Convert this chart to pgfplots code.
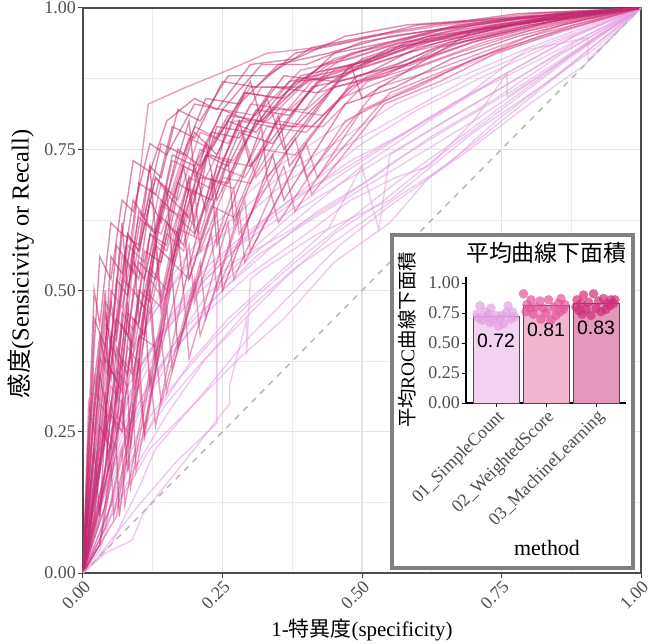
\documentclass[border=0pt]{standalone}
\usepackage{fontspec}
\setmainfont{Liberation Serif}
\newfontfamily\cjk{Noto Sans CJK JP}
\newfontfamily\arial{Liberation Sans}
\usepackage{pgfplots}
\pgfplotsset{compat=1.18}
\definecolor{gridc}{HTML}{E3E3E3}
\definecolor{tickc}{HTML}{4D4D4D}
\definecolor{cA}{HTML}{E39BE0}
\definecolor{cB}{HTML}{DC4A8C}
\definecolor{cC}{HTML}{C2286E}
\definecolor{pA}{HTML}{E4A0E2}
\definecolor{pB}{HTML}{E5559A}
\definecolor{pC}{HTML}{D02F7A}
\definecolor{bA}{HTML}{F2D3F0}
\definecolor{bB}{HTML}{F2B5CF}
\definecolor{bC}{HTML}{E397BB}
\pgfplotsset{
 sc/.style={cA, opacity=0.55, line width=1.4bp},
 ws/.style={cB, opacity=0.55, line width=1.4bp},
 ml/.style={cC, opacity=0.55, line width=1.4bp},
}
\newcommand{\tfont}{\fontsize{18}{20}\selectfont}
\begin{document}
\begin{tikzpicture}
\begin{axis}[
 at={(0,0)}, anchor=south west,
 width=558bp, height=565bp, scale only axis,
 xmin=0, xmax=1, ymin=0, ymax=1,
 xtick={0,0.25,0.5,0.75,1}, ytick={0,0.25,0.5,0.75,1},
 minor xtick={0.125,0.375,0.625,0.875}, minor ytick={0.125,0.375,0.625,0.875},
 grid=both, major grid style={gridc, line width=1.2bp}, minor grid style={gridc!70, line width=0.7bp},
 minor tick length=0pt, major tick length=5bp, tick align=outside,
 xtick pos=bottom, ytick pos=left,
 tick style={black!75, line width=1bp},
 axis line style={black!70, line width=1.2bp},
 /pgf/number format/.cd, fixed, fixed zerofill, precision=2, assume math mode=true,
 /pgfplots/.cd,
 xticklabel style={rotate=45, anchor=north east, font=\tfont, text=tickc, inner sep=1bp},
 yticklabel style={font=\tfont, text=tickc, inner sep=2bp},
 xlabel={1-{\cjk 特異度}(specificity)},
 ylabel={{\cjk 感度}(Sensicivity or Recall)},
 xlabel style={at={(axis description cs:0.5,0)}, anchor=center, yshift=-57bp, font=\fontsize{21}{24}\selectfont},
 ylabel style={at={(axis description cs:0,0.547)}, anchor=center, yshift=62bp, font=\fontsize{24.5}{27}\selectfont},
]
% ---- 01_SimpleCount
\addplot[sc] coordinates {(0,0)(0.04,0.035)(0.088,0.058)(0.108,0.106)(0.2,0.22)(0.263,0.30)(0.263,0.333)(0.293,0.448)(0.293,0.386)(0.30,0.52)(0.32,0.536)(0.42,0.6)(0.55,0.66)(0.7,0.78)(0.82,0.86)(0.92,0.93)(1,1)};
\addplot[sc] coordinates {(0,0)(0.02,0.02)(0.1,0.12)(0.17,0.2)(0.24,0.265)(0.24,0.5)(0.3,0.56)(0.4,0.64)(0.5,0.72)(0.62,0.8)(0.75,0.88)(0.88,0.95)(1,1)};
\addplot[sc] coordinates {(0,0)(0.03,0.12)(0.07,0.24)(0.12,0.34)(0.18,0.43)(0.25,0.5)(0.33,0.57)(0.42,0.64)(0.52,0.7)(0.62,0.77)(0.74,0.84)(0.86,0.92)(1,1)};
\addplot[sc] coordinates {(0,0)(0.02,0.18)(0.05,0.3)(0.09,0.4)(0.14,0.48)(0.2,0.56)(0.28,0.62)(0.36,0.69)(0.46,0.75)(0.57,0.81)(0.7,0.88)(0.84,0.94)(1,1)};
\addplot[sc] coordinates {(0,0)(0.04,0.08)(0.08,0.18)(0.13,0.28)(0.19,0.37)(0.26,0.45)(0.35,0.53)(0.44,0.61)(0.5,0.72)(0.53,0.607)(0.55,0.74)(0.65,0.8)(0.77,0.87)(0.9,0.95)(1,1)};
\addplot[sc] coordinates {(0,0)(0.05,0.2)(0.1,0.33)(0.15,0.43)(0.22,0.52)(0.3,0.6)(0.38,0.66)(0.48,0.73)(0.58,0.78)(0.68,0.84)(0.8,0.9)(0.9,0.95)(1,1)};
\addplot[sc] coordinates {(0,0)(0.03,0.06)(0.06,0.15)(0.1,0.25)(0.16,0.33)(0.23,0.41)(0.3,0.48)(0.38,0.55)(0.47,0.62)(0.56,0.69)(0.66,0.76)(0.77,0.84)(0.88,0.92)(1,1)};
\addplot[sc] coordinates {(0,0)(0.02,0.1)(0.06,0.26)(0.11,0.38)(0.17,0.47)(0.24,0.55)(0.32,0.62)(0.41,0.69)(0.5,0.76)(0.6,0.82)(0.72,0.88)(0.85,0.94)(1,1)};
\addplot[sc] coordinates {(0,0)(0.06,0.14)(0.1,0.23)(0.15,0.3)(0.21,0.37)(0.28,0.44)(0.36,0.52)(0.45,0.6)(0.54,0.66)(0.64,0.74)(0.75,0.82)(0.87,0.91)(1,1)};
\addplot[sc] coordinates {(0,0)(0.03,0.22)(0.07,0.35)(0.12,0.45)(0.18,0.54)(0.26,0.62)(0.35,0.7)(0.45,0.76)(0.56,0.83)(0.68,0.88)(0.8,0.93)(0.91,0.97)(1,1)};
\addplot[sc] coordinates {(0,0)(0.04,0.15)(0.09,0.27)(0.15,0.38)(0.22,0.46)(0.3,0.53)(0.4,0.6)(0.48,0.66)(0.56,0.7)(0.62,0.72)(0.7,0.8)(0.76,0.885)(0.76,0.843)(0.88,0.92)(1,1)};
\addplot[sc] coordinates {(0,0)(0.05,0.1)(0.12,0.22)(0.2,0.3)(0.28,0.38)(0.36,0.45)(0.45,0.55)(0.55,0.62)(0.62,0.7)(0.7,0.76)(0.8,0.84)(0.9,0.92)(1,1)};
\addplot[sc] coordinates {(0,0)(0.04,0.17)(0.08,0.3)(0.13,0.41)(0.2,0.5)(0.28,0.58)(0.37,0.64)(0.47,0.71)(0.58,0.78)(0.68,0.84)(0.795,0.926)(0.905,0.947)(0.905,0.908)(1,1)};
\addplot[sc] coordinates {(0,0)(0.03,0.04)(0.05,0.1)(0.09,0.18)(0.15,0.28)(0.22,0.38)(0.3,0.47)(0.38,0.54)(0.47,0.6)(0.57,0.67)(0.68,0.74)(0.8,0.83)(0.9,0.9)(1,1)};
\addplot[sc] coordinates {(0,0)(0.02,0.15)(0.05,0.28)(0.09,0.39)(0.14,0.5)(0.2,0.58)(0.27,0.65)(0.35,0.72)(0.44,0.78)(0.54,0.84)(0.66,0.89)(0.8,0.94)(1,1)};
\addplot[sc] coordinates {(0,0)(0.05,0.05)(0.1,0.15)(0.13,0.22)(0.2,0.3)(0.3,0.42)(0.38,0.5)(0.46,0.58)(0.55,0.65)(0.65,0.72)(0.74,0.8)(0.86,0.89)(1,1)};
\addplot[sc] coordinates {(0,0)(0.03,0.2)(0.08,0.33)(0.14,0.42)(0.2,0.49)(0.27,0.55)(0.36,0.6)(0.46,0.66)(0.56,0.73)(0.66,0.79)(0.78,0.86)(0.89,0.93)(1,1)};
\addplot[sc] coordinates {(0,0)(0.04,0.12)(0.07,0.22)(0.11,0.3)(0.17,0.4)(0.23,0.48)(0.31,0.56)(0.4,0.62)(0.5,0.68)(0.6,0.74)(0.7,0.8)(0.82,0.88)(0.92,0.95)(1,1)};
\addplot[sc] coordinates {(0,0)(0.02,0.08)(0.06,0.2)(0.1,0.3)(0.16,0.4)(0.22,0.49)(0.3,0.57)(0.38,0.64)(0.48,0.7)(0.58,0.76)(0.7,0.83)(0.82,0.9)(1,1)};
\addplot[sc] coordinates {(0,0)(0.06,0.25)(0.1,0.36)(0.16,0.46)(0.22,0.54)(0.29,0.6)(0.37,0.66)(0.46,0.71)(0.56,0.77)(0.66,0.83)(0.77,0.89)(0.88,0.95)(1,1)};
% ---- 02_WeightedScore
\addplot[ws] coordinates {(0,0)(0.02,0.15)(0.04,0.3)(0.045,0.18)(0.08,0.45)(0.09,0.33)(0.13,0.58)(0.14,0.46)(0.2,0.68)(0.21,0.57)(0.29,0.77)(0.31,0.7)(0.42,0.85)(0.52,0.88)(0.63,0.93)(0.77,0.96)(0.9,0.99)(1,1)};
\addplot[ws] coordinates {(0,0)(0.03,0.25)(0.05,0.4)(0.07,0.36)(0.09,0.55)(0.11,0.52)(0.14,0.66)(0.17,0.63)(0.21,0.75)(0.25,0.73)(0.3,0.83)(0.37,0.82)(0.45,0.89)(0.55,0.92)(0.66,0.95)(0.8,0.98)(1,1)};
\addplot[ws] coordinates {(0,0)(0.04,0.08)(0.07,0.22)(0.075,0.12)(0.12,0.36)(0.13,0.26)(0.18,0.5)(0.19,0.38)(0.26,0.62)(0.27,0.52)(0.36,0.72)(0.38,0.64)(0.5,0.82)(0.6,0.86)(0.7,0.91)(0.82,0.95)(1,1)};
\addplot[ws] coordinates {(0,0)(0.03,0.2)(0.06,0.45)(0.09,0.6)(0.107,0.75)(0.117,0.83)(0.185,0.86)(0.26,0.89)(0.33,0.92)(0.42,0.93)(0.52,0.95)(0.65,0.97)(0.8,0.99)(1,1)};
\addplot[ws] coordinates {(0,0)(0.02,0.1)(0.05,0.33)(0.07,0.3)(0.1,0.48)(0.12,0.46)(0.15,0.6)(0.18,0.57)(0.22,0.7)(0.27,0.68)(0.33,0.79)(0.4,0.78)(0.48,0.86)(0.58,0.9)(0.7,0.94)(0.83,0.97)(1,1)};
\addplot[ws] coordinates {(0,0)(0.01,0.18)(0.03,0.38)(0.05,0.34)(0.07,0.52)(0.09,0.5)(0.11,0.62)(0.14,0.6)(0.18,0.72)(0.22,0.7)(0.27,0.8)(0.33,0.8)(0.4,0.87)(0.5,0.9)(0.62,0.94)(0.76,0.97)(1,1)};
\addplot[ws] coordinates {(0,0)(0.05,0.12)(0.08,0.25)(0.085,0.15)(0.13,0.4)(0.14,0.3)(0.2,0.52)(0.21,0.42)(0.28,0.64)(0.29,0.55)(0.39,0.74)(0.41,0.67)(0.54,0.83)(0.64,0.87)(0.74,0.92)(0.86,0.96)(1,1)};
\addplot[ws] coordinates {(0,0)(0.02,0.3)(0.04,0.48)(0.06,0.44)(0.08,0.6)(0.1,0.57)(0.13,0.7)(0.16,0.67)(0.2,0.79)(0.24,0.77)(0.3,0.86)(0.37,0.86)(0.45,0.91)(0.55,0.94)(0.68,0.97)(0.82,0.99)(1,1)};
\addplot[ws] coordinates {(0,0)(0.03,0.14)(0.06,0.28)(0.08,0.25)(0.1,0.42)(0.13,0.4)(0.16,0.55)(0.19,0.52)(0.23,0.65)(0.27,0.63)(0.32,0.75)(0.38,0.74)(0.46,0.84)(0.56,0.88)(0.67,0.92)(0.8,0.96)(1,1)};
\addplot[ws] coordinates {(0,0)(0.04,0.26)(0.06,0.22)(0.08,0.4)(0.1,0.37)(0.12,0.54)(0.15,0.5)(0.18,0.64)(0.21,0.6)(0.25,0.73)(0.3,0.72)(0.36,0.82)(0.43,0.81)(0.51,0.88)(0.61,0.91)(0.73,0.95)(0.86,0.98)(1,1)};
\addplot[ws] coordinates {(0,0)(0.02,0.22)(0.04,0.4)(0.05,0.35)(0.07,0.56)(0.09,0.53)(0.12,0.68)(0.15,0.65)(0.19,0.77)(0.23,0.75)(0.29,0.85)(0.36,0.84)(0.44,0.9)(0.54,0.93)(0.66,0.96)(0.8,0.98)(1,1)};
\addplot[ws] coordinates {(0,0)(0.06,0.1)(0.09,0.3)(0.095,0.18)(0.14,0.42)(0.15,0.32)(0.21,0.55)(0.22,0.45)(0.29,0.66)(0.3,0.57)(0.4,0.76)(0.42,0.7)(0.55,0.85)(0.65,0.89)(0.76,0.93)(0.88,0.97)(1,1)};
\addplot[ws] coordinates {(0,0)(0.01,0.1)(0.03,0.3)(0.05,0.27)(0.07,0.46)(0.09,0.43)(0.12,0.6)(0.15,0.57)(0.19,0.7)(0.23,0.68)(0.28,0.8)(0.34,0.79)(0.41,0.87)(0.5,0.9)(0.61,0.94)(0.74,0.97)(0.88,0.99)(1,1)};
\addplot[ws] coordinates {(0,0)(0.03,0.18)(0.06,0.36)(0.08,0.33)(0.11,0.5)(0.14,0.47)(0.17,0.61)(0.21,0.59)(0.25,0.7)(0.3,0.69)(0.36,0.79)(0.43,0.79)(0.51,0.87)(0.61,0.9)(0.72,0.94)(0.84,0.97)(1,1)};
\addplot[ws] coordinates {(0,0)(0.02,0.35)(0.03,0.3)(0.05,0.5)(0.07,0.47)(0.1,0.63)(0.13,0.6)(0.16,0.73)(0.2,0.71)(0.25,0.82)(0.31,0.81)(0.39,0.89)(0.48,0.91)(0.6,0.95)(0.74,0.97)(1,1)};
\addplot[ws] coordinates {(0,0)(0.05,0.2)(0.07,0.35)(0.075,0.24)(0.12,0.47)(0.13,0.36)(0.19,0.58)(0.2,0.48)(0.27,0.68)(0.28,0.6)(0.38,0.77)(0.4,0.7)(0.53,0.86)(0.63,0.89)(0.74,0.93)(0.86,0.97)(1,1)};
\addplot[ws] coordinates {(0,0)(0.01,0.3)(0.02,0.25)(0.04,0.44)(0.06,0.41)(0.08,0.58)(0.11,0.55)(0.14,0.69)(0.17,0.66)(0.21,0.78)(0.26,0.76)(0.32,0.86)(0.39,0.86)(0.48,0.92)(0.58,0.94)(0.7,0.97)(0.85,0.99)(1,1)};
\addplot[ws] coordinates {(0,0)(0.04,0.15)(0.07,0.38)(0.09,0.35)(0.12,0.52)(0.14,0.49)(0.17,0.63)(0.2,0.6)(0.24,0.72)(0.29,0.7)(0.35,0.8)(0.41,0.79)(0.49,0.87)(0.59,0.9)(0.7,0.94)(0.82,0.97)(1,1)};
\addplot[ws] coordinates {(0,0)(0.03,0.05)(0.05,0.2)(0.055,0.1)(0.1,0.34)(0.11,0.24)(0.15,0.47)(0.16,0.36)(0.23,0.6)(0.24,0.5)(0.33,0.7)(0.35,0.62)(0.47,0.8)(0.57,0.85)(0.68,0.9)(0.8,0.95)(0.92,0.98)(1,1)};
\addplot[ws] coordinates {(0,0)(0.02,0.2)(0.05,0.42)(0.06,0.38)(0.09,0.55)(0.11,0.52)(0.14,0.65)(0.18,0.63)(0.22,0.74)(0.27,0.73)(0.33,0.82)(0.4,0.82)(0.48,0.89)(0.58,0.92)(0.7,0.95)(0.83,0.98)(1,1)};
% ---- 03_MachineLearning
\addplot[ml] coordinates {(0,0)(0.02,0.22)(0.03,0.1)(0.05,0.42)(0.06,0.3)(0.09,0.58)(0.1,0.45)(0.15,0.68)(0.16,0.55)(0.22,0.76)(0.24,0.66)(0.33,0.84)(0.36,0.75)(0.48,0.9)(0.5,0.84)(0.7,0.96)(0.85,0.98)(1,1)};
\addplot[ml] coordinates {(0,0)(0.01,0.12)(0.03,0.35)(0.04,0.3)(0.06,0.52)(0.08,0.49)(0.1,0.64)(0.13,0.6)(0.16,0.74)(0.2,0.72)(0.25,0.82)(0.3,0.8)(0.36,0.88)(0.45,0.87)(0.55,0.93)(0.68,0.95)(0.82,0.98)(1,1)};
\addplot[ml] coordinates {(0,0)(0.03,0.1)(0.05,0.28)(0.07,0.25)(0.09,0.45)(0.11,0.42)(0.13,0.58)(0.16,0.55)(0.19,0.68)(0.23,0.66)(0.28,0.78)(0.34,0.76)(0.41,0.86)(0.5,0.88)(0.6,0.93)(0.73,0.96)(0.87,0.99)(1,1)};
\addplot[ml] coordinates {(0,0)(0.02,0.3)(0.04,0.5)(0.045,0.35)(0.07,0.62)(0.08,0.5)(0.12,0.72)(0.13,0.6)(0.19,0.8)(0.2,0.7)(0.3,0.87)(0.32,0.8)(0.45,0.92)(0.55,0.94)(0.67,0.97)(0.8,0.985)(1,1)};
\addplot[ml] coordinates {(0,0)(0.04,0.18)(0.06,0.4)(0.08,0.35)(0.1,0.5)(0.12,0.48)(0.15,0.62)(0.18,0.58)(0.21,0.7)(0.26,0.69)(0.31,0.8)(0.38,0.79)(0.46,0.87)(0.56,0.9)(0.66,0.94)(0.8,0.97)(1,1)};
\addplot[ml] coordinates {(0,0)(0.01,0.2)(0.02,0.45)(0.04,0.4)(0.05,0.56)(0.07,0.53)(0.09,0.66)(0.11,0.63)(0.14,0.76)(0.18,0.74)(0.22,0.84)(0.28,0.83)(0.35,0.9)(0.44,0.92)(0.55,0.95)(0.7,0.97)(0.85,0.99)(1,1)};
\addplot[ml] coordinates {(0,0)(0.03,0.05)(0.06,0.22)(0.065,0.1)(0.1,0.38)(0.11,0.25)(0.16,0.52)(0.17,0.4)(0.24,0.64)(0.25,0.5)(0.34,0.74)(0.36,0.66)(0.47,0.83)(0.56,0.86)(0.66,0.91)(0.78,0.95)(0.9,0.98)(1,1)};
\addplot[ml] coordinates {(0,0)(0.02,0.15)(0.04,0.38)(0.06,0.34)(0.08,0.55)(0.1,0.52)(0.12,0.66)(0.14,0.62)(0.17,0.75)(0.21,0.72)(0.26,0.81)(0.32,0.8)(0.39,0.88)(0.48,0.9)(0.6,0.94)(0.74,0.97)(0.88,0.99)(1,1)};
\addplot[ml] coordinates {(0,0)(0.05,0.3)(0.06,0.25)(0.08,0.46)(0.1,0.44)(0.12,0.6)(0.15,0.58)(0.18,0.72)(0.2,0.62)(0.23,0.78)(0.28,0.77)(0.34,0.86)(0.42,0.85)(0.5,0.91)(0.62,0.95)(0.76,0.97)(1,1)};
\addplot[ml] coordinates {(0,0)(0.01,0.08)(0.03,0.26)(0.05,0.22)(0.07,0.44)(0.09,0.4)(0.11,0.57)(0.14,0.55)(0.17,0.69)(0.2,0.67)(0.24,0.79)(0.3,0.78)(0.37,0.87)(0.46,0.89)(0.57,0.93)(0.7,0.96)(0.84,0.98)(1,1)};
\addplot[ml] coordinates {(0,0)(0.02,0.4)(0.03,0.56)(0.05,0.52)(0.07,0.66)(0.09,0.64)(0.12,0.76)(0.15,0.74)(0.2,0.83)(0.25,0.82)(0.32,0.9)(0.4,0.9)(0.5,0.94)(0.62,0.96)(0.76,0.98)(1,1)};
\addplot[ml] coordinates {(0,0)(0.04,0.12)(0.07,0.3)(0.08,0.18)(0.11,0.47)(0.12,0.33)(0.17,0.6)(0.18,0.5)(0.23,0.7)(0.24,0.58)(0.32,0.79)(0.33,0.7)(0.45,0.86)(0.54,0.88)(0.64,0.93)(0.77,0.96)(0.9,0.99)(1,1)};
\addplot[ml] coordinates {(0,0)(0.03,0.34)(0.05,0.48)(0.06,0.42)(0.08,0.6)(0.1,0.57)(0.13,0.7)(0.16,0.66)(0.2,0.78)(0.24,0.74)(0.29,0.85)(0.35,0.84)(0.43,0.9)(0.52,0.93)(0.64,0.96)(0.78,0.98)(1,1)};
\addplot[ml] coordinates {(0,0)(0.02,0.1)(0.05,0.36)(0.07,0.32)(0.09,0.5)(0.11,0.47)(0.14,0.63)(0.17,0.6)(0.2,0.72)(0.22,0.64)(0.26,0.8)(0.31,0.78)(0.38,0.87)(0.47,0.88)(0.58,0.94)(0.72,0.96)(0.86,0.99)(1,1)};
\addplot[ml] coordinates {(0,0)(0.01,0.25)(0.03,0.42)(0.04,0.37)(0.06,0.58)(0.08,0.55)(0.1,0.69)(0.13,0.67)(0.16,0.79)(0.2,0.77)(0.25,0.87)(0.31,0.86)(0.38,0.92)(0.48,0.94)(0.6,0.97)(0.75,0.98)(1,1)};
\addplot[ml] coordinates {(0,0)(0.05,0.2)(0.08,0.33)(0.085,0.22)(0.12,0.5)(0.13,0.38)(0.18,0.63)(0.19,0.52)(0.26,0.73)(0.27,0.62)(0.35,0.81)(0.37,0.72)(0.49,0.88)(0.58,0.9)(0.68,0.94)(0.8,0.97)(1,1)};
\addplot[ml] coordinates {(0,0)(0.02,0.28)(0.04,0.46)(0.05,0.4)(0.07,0.6)(0.1,0.58)(0.12,0.72)(0.14,0.7)(0.17,0.82)(0.21,0.8)(0.26,0.88)(0.33,0.88)(0.41,0.93)(0.51,0.95)(0.63,0.97)(0.78,0.99)(1,1)};
\addplot[ml] coordinates {(0,0)(0.03,0.2)(0.06,0.45)(0.08,0.42)(0.1,0.55)(0.13,0.52)(0.16,0.66)(0.19,0.63)(0.22,0.74)(0.26,0.72)(0.31,0.82)(0.37,0.81)(0.44,0.89)(0.53,0.91)(0.63,0.95)(0.76,0.97)(0.9,0.99)(1,1)};
\addplot[ml] coordinates {(0,0)(0.01,0.05)(0.04,0.32)(0.045,0.2)(0.08,0.48)(0.09,0.35)(0.13,0.6)(0.14,0.48)(0.19,0.7)(0.2,0.6)(0.28,0.8)(0.3,0.72)(0.42,0.87)(0.52,0.9)(0.64,0.94)(0.77,0.97)(1,1)};
\addplot[ml] coordinates {(0,0)(0.02,0.5)(0.03,0.44)(0.05,0.62)(0.07,0.6)(0.09,0.73)(0.12,0.71)(0.15,0.8)(0.2,0.84)(0.24,0.82)(0.3,0.9)(0.38,0.91)(0.47,0.95)(0.58,0.97)(0.72,0.98)(1,1)};
% diagonal
\addplot[black!28, line width=1.5bp, dash pattern=on 6bp off 6bp] coordinates {(0,0)(1,1)};
\end{axis}
% inset frame
\draw[line width=4bp, draw=black!50, fill=white] (309bp,5bp) rectangle (550bp,338bp);
\begin{axis}[
 at={(383bp,170bp)}, anchor=south west,
 width=160bp, height=126bp, scale only axis,
 xmin=0.4, xmax=3.6, ymin=0, ymax=1.05,
 axis lines=left, axis line style={-, black, line width=1.2bp},
 xtick={1,2,3}, xticklabels={01\_SimpleCount,02\_WeightedScore,03\_MachineLearning},
 ytick={0,0.25,0.5,0.75,1},
 tick align=outside, major tick length=4bp, tick style={black, line width=1bp},
 /pgf/number format/.cd, fixed, fixed zerofill, precision=2, assume math mode=true,
 /pgfplots/.cd,
 xticklabel style={rotate=45, anchor=north east, font=\tfont, text=tickc, inner sep=1bp},
 yticklabel style={font=\tfont, text=tickc, inner sep=2bp},
 ylabel={{\cjk 平均}ROC{\cjk 曲線下面積}},
 ylabel style={at={(axis description cs:0,0.5)}, anchor=center, yshift=59bp, font=\fontsize{19.5}{22}\selectfont},
 clip=false,
]
\addplot[ybar, bar width=0.92, fill=bA, draw=black!70, line width=1bp] coordinates {(1,0.72)};
\addplot[ybar, bar width=0.92, fill=bB, draw=black!70, line width=1bp] coordinates {(2,0.81)};
\addplot[ybar, bar width=0.92, fill=bC, draw=black!70, line width=1bp] coordinates {(3,0.83)};
\addplot[only marks, mark=*, mark size=4.8bp, mark options={draw opacity=0, fill=pA, fill opacity=0.7}] coordinates {
(0.68,0.81)(0.9,0.79)(1.24,0.81)(0.62,0.74)(0.82,0.72)(1.0,0.73)(1.2,0.75)(1.33,0.76)(1.08,0.70)(0.88,0.67)
(0.72,0.69)(1.05,0.64)(1.3,0.7)(1.15,0.66)(0.78,0.76)(0.95,0.69)(1.37,0.72)(0.65,0.71)(1.12,0.73)(0.85,0.74)};
\addplot[only marks, mark=*, mark size=4.8bp, mark options={draw opacity=0, fill=pB, fill opacity=0.7}] coordinates {
(1.55,0.91)(1.7,0.86)(1.88,0.85)(2.05,0.86)(2.3,0.87)(2.25,0.83)(1.62,0.82)(1.8,0.8)(1.95,0.79)(2.15,0.8)
(2.35,0.78)(1.6,0.76)(1.75,0.74)(2.0,0.75)(2.2,0.73)(1.9,0.7)(2.1,0.69)(2.38,0.82)(1.68,0.79)(2.28,0.76)};
\addplot[only marks, mark=*, mark size=4.8bp, mark options={draw opacity=0, fill=pC, fill opacity=0.7}] coordinates {
(2.62,0.86)(2.75,0.9)(2.95,0.91)(3.15,0.87)(3.3,0.86)(3.38,0.86)(2.7,0.83)(2.85,0.84)(3.05,0.85)(3.22,0.83)
(3.35,0.83)(2.6,0.8)(2.8,0.78)(3.0,0.79)(3.2,0.78)(2.72,0.74)(2.9,0.73)(3.1,0.76)(3.28,0.81)(2.66,0.77)};
\node[font=\arial\fontsize{19.5}{22}\selectfont] at (axis cs:1,0.52) {0.72};
\node[font=\arial\fontsize{19.5}{22}\selectfont] at (axis cs:2,0.61) {0.81};
\node[font=\arial\fontsize{19.5}{22}\selectfont] at (axis cs:3,0.63) {0.83};
\end{axis}
\node[anchor=east, font=\cjk\fontsize{23}{26}\selectfont] at (547bp,320bp) {平均曲線下面積};
\node[font=\fontsize{22}{24}\selectfont] at (464bp,25bp) {method};
\pgfresetboundingbox
\useasboundingbox (-83bp,-71bp) rectangle (575bp,573bp);
\end{tikzpicture}
\end{document}
